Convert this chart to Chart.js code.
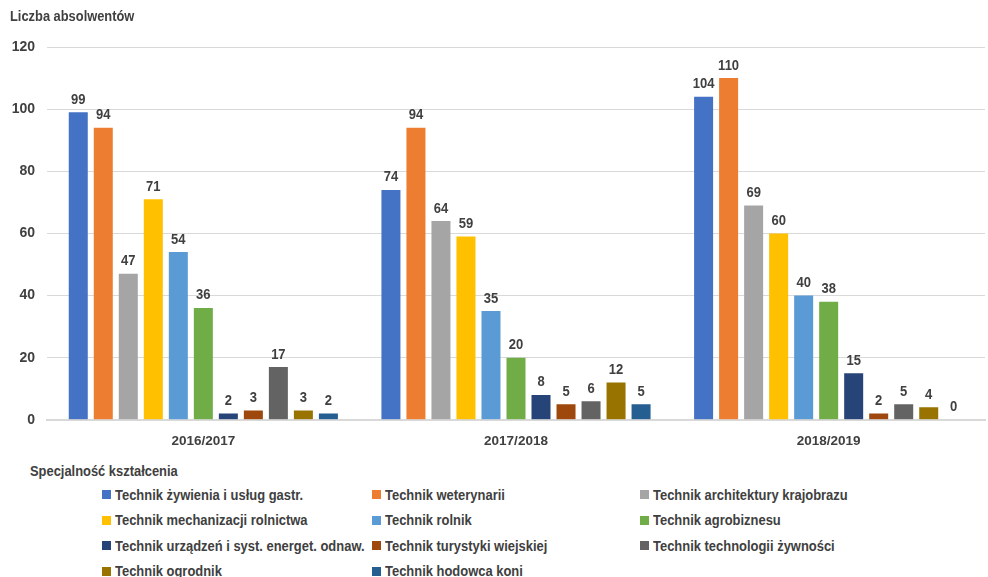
<!DOCTYPE html>
<html>
<head>
<meta charset="utf-8">
<script src="https://cdn.jsdelivr.net/npm/chart.js@4.4.1/dist/chart.umd.min.js"></script>
<style>
  body { margin: 0; background: #fff; font-family: "Liberation Sans", Arial, sans-serif; font-weight: bold; color: #404040; }
  #wrap { position: relative; width: 988px; height: 577px; }
  .narrow { display: inline-block; transform-origin: left center; white-space: nowrap; }
  #axisTitle { position: absolute; left: 10px; top: 7px; font-size: 15.5px; }
  #axisTitle .narrow { transform: scaleX(0.83); }
  #chartBox { position: absolute; left: 0; top: 0; width: 988px; height: 454px; }
  #legendTitle { position: absolute; left: 30px; top: 462px; font-size: 15px; }
  #legendTitle .narrow { transform: scaleX(0.86); }
  #legend { position: absolute; left: 102px; top: 482px; display: grid; grid-template-columns: 270px 268px 300px; grid-auto-rows: 25.5px; font-size: 15.5px; }
  .item { display: flex; align-items: center; white-space: nowrap; }
  .item .narrow { transform: scaleX(0.835); }
  .box { width: 9px; height: 9px; margin-right: 4px; flex: none; }
</style>
</head>
<body>
<div id="wrap">
  <div id="chartBox"><canvas id="myChart"></canvas></div>
  <div id="axisTitle"><span class="narrow">Liczba absolwentów</span></div>
  <div id="legendTitle"><span class="narrow">Specjalność kształcenia</span></div>
  <div id="legend"></div>
</div>
<script>
// school years on the x axis
const years = ['2016/2017', '2017/2018', '2018/2019'];

// graduates per specialisation, one array per series
const zywienie = [99, 74, 104];
const weterynaria = [94, 94, 110];
const architektura = [47, 64, 69];
const mechanizacja = [71, 59, 60];
const rolnik = [54, 35, 40];
const agrobiznes = [36, 20, 38];
const oze = [2, 8, 15];
const turystyka = [3, 5, 2];
const technologia = [17, 6, 5];
const ogrodnik = [3, 12, 4];
const hodowca = [2, 5, 0];

const seriesNames = [
    'Technik żywienia i usług gastr.',
    'Technik weterynarii',
    'Technik architektury krajobrazu',
    'Technik mechanizacji rolnictwa',
    'Technik rolnik',
    'Technik agrobiznesu',
    'Technik urządzeń i syst. energet. odnaw.',
    'Technik turystyki wiejskiej',
    'Technik technologii żywności',
    'Technik ogrodnik',
    'Technik hodowca koni'
];
const seriesValues = [zywienie, weterynaria, architektura, mechanizacja, rolnik, agrobiznes,
    oze, turystyka, technologia, ogrodnik, hodowca];
const seriesColors = ['#4472C4', '#ED7D31', '#A5A5A5', '#FFC000', '#5B9BD5', '#70AD47',
    '#264478', '#9E480E', '#636363', '#997300', '#255E91'];

const yTicks = [0, 20, 40, 60, 80, 100, 120];

const font = "'Liberation Sans', Arial, sans-serif";

// value labels above each bar, slightly condensed
const barValues = {
    id: 'barValues',
    afterDatasetsDraw(chart) {
        const ctx = chart.ctx;
        chart.data.datasets.forEach((ds, i) => {
            chart.getDatasetMeta(i).data.forEach((bar, j) => {
                ctx.save();
                ctx.font = 'bold 15.5px ' + font;
                ctx.fillStyle = '#404040';
                ctx.textAlign = 'center';
                ctx.textBaseline = 'bottom';
                ctx.translate(bar.x, bar.y - 5);
                ctx.scale(0.84, 1);
                ctx.fillText(ds.data[j], 0, 0);
                ctx.restore();
            });
        });
    }
};

document.addEventListener('DOMContentLoaded', function () {
    const ctx = document.getElementById('myChart').getContext('2d');

    const datasets = seriesNames.map((name, i) => ({
        label: name,
        data: seriesValues[i],
        backgroundColor: seriesColors[i],
        borderWidth: 0,
        categoryPercentage: 0.88,
        barPercentage: 0.76
    }));

    new Chart(ctx, {
        type: 'bar',
        data: { labels: years, datasets: datasets },
        options: {
            responsive: true,
            maintainAspectRatio: false,
            animation: false,
            layout: { padding: { top: 47, right: 3, bottom: 0, left: 0 } },
            plugins: {
                legend: { display: false },
                tooltip: { enabled: false }
            },
            scales: {
                x: {
                    grid: { display: false },
                    border: { color: '#D9D9D9', width: 2 },
                    ticks: {
                        color: '#404040',
                        font: { family: font, size: 13.5, weight: 'bold' },
                        padding: 5
                    }
                },
                y: {
                    min: 0,
                    max: 120,
                    afterFit(scale) { scale.width = 47; },
                    afterBuildTicks(scale) { scale.ticks = yTicks.map(v => ({ value: v })); },
                    grid: { color: '#D9D9D9', drawTicks: false },
                    border: { display: false },
                    ticks: {
                        color: '#404040',
                        font: { family: font, size: 14, weight: 'bold' },
                        padding: 12
                    }
                }
            }
        },
        plugins: [barValues]
    });

    // legend in three fixed columns
    const legend = document.getElementById('legend');
    seriesNames.forEach((name, i) => {
        const item = document.createElement('div');
        item.className = 'item';
        const box = document.createElement('span');
        box.className = 'box';
        box.style.background = seriesColors[i];
        const text = document.createElement('span');
        text.className = 'narrow';
        text.textContent = name;
        item.appendChild(box);
        item.appendChild(text);
        legend.appendChild(item);
    });
});
</script>
</body>
</html>
